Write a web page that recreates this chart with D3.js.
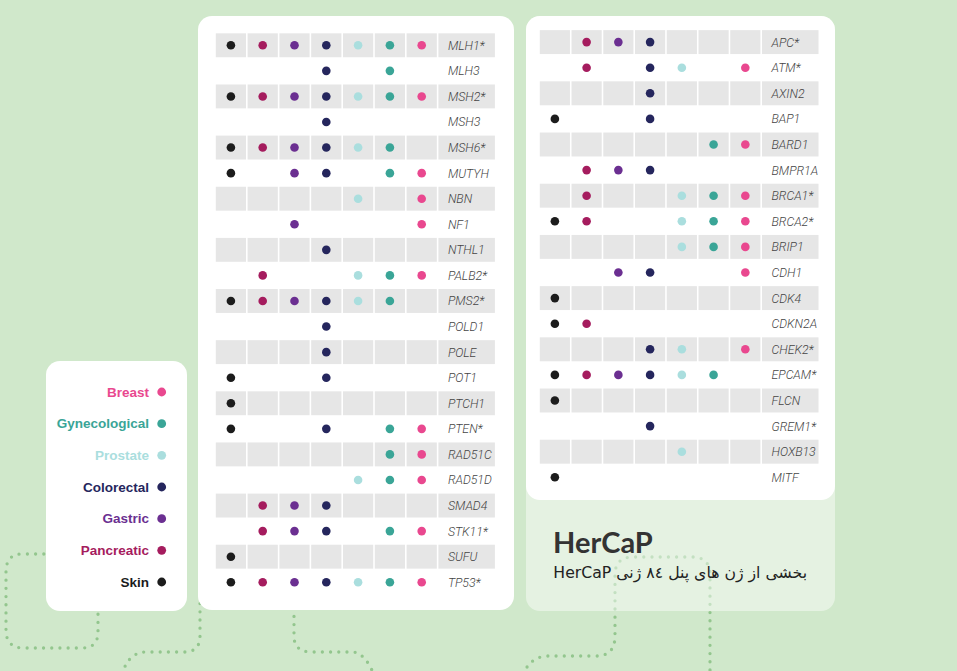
<!DOCTYPE html>
<html>
<head>
<meta charset="utf-8">
<script src="https://cdn.jsdelivr.net/npm/d3@7"></script>
<style>
  html, body { margin: 0; padding: 0; background: #d0e8cb; }
  svg { display: block; }
</style>
</head>
<body>
<script>
// ---------- DATA ----------
const cancers = ["Skin", "Pancreatic", "Gastric", "Colorectal", "Prostate", "Gynecological", "Breast"];
const cancerColors = ["#1c1c1c", "#a51c5e", "#6b2f91", "#25265d", "#aadede", "#3aa597", "#e9488f"];
const legendOrder = ["Breast", "Gynecological", "Prostate", "Colorectal", "Gastric", "Pancreatic", "Skin"];

const leftGenes = ["MLH1*", "MLH3", "MSH2*", "MSH3", "MSH6*", "MUTYH", "NBN", "NF1", "NTHL1", "PALB2*",
  "PMS2*", "POLD1", "POLE", "POT1", "PTCH1", "PTEN*", "RAD51C", "RAD51D", "SMAD4", "STK11*", "SUFU", "TP53*"];
// columns: Skin, Pancreatic, Gastric, Colorectal, Prostate, Gynecological, Breast
const leftMatrix = [
  [1,1,1,1,1,1,1],
  [0,0,0,1,0,1,0],
  [1,1,1,1,1,1,1],
  [0,0,0,1,0,0,0],
  [1,1,1,1,1,1,0],
  [1,0,1,1,0,1,1],
  [0,0,0,0,1,0,1],
  [0,0,1,0,0,0,1],
  [0,0,0,1,0,0,0],
  [0,1,0,0,1,1,1],
  [1,1,1,1,1,1,0],
  [0,0,0,1,0,0,0],
  [0,0,0,1,0,0,0],
  [1,0,0,1,0,0,0],
  [1,0,0,0,0,0,0],
  [1,0,0,1,0,1,1],
  [0,0,0,0,0,1,1],
  [0,0,0,0,1,1,1],
  [0,1,1,1,0,0,0],
  [0,1,1,1,0,1,1],
  [1,0,0,0,0,0,0],
  [1,1,1,1,1,1,1]
];

const rightGenes = ["APC*", "ATM*", "AXIN2", "BAP1", "BARD1", "BMPR1A", "BRCA1*", "BRCA2*", "BRIP1",
  "CDH1", "CDK4", "CDKN2A", "CHEK2*", "EPCAM*", "FLCN", "GREM1*", "HOXB13", "MITF"];
const rightMatrix = [
  [0,1,1,1,0,0,0],
  [0,1,0,1,1,0,1],
  [0,0,0,1,0,0,0],
  [1,0,0,1,0,0,0],
  [0,0,0,0,0,1,1],
  [0,1,1,1,0,0,0],
  [0,1,0,0,1,1,1],
  [1,1,0,0,1,1,1],
  [0,0,0,0,1,1,1],
  [0,0,1,1,0,0,1],
  [1,0,0,0,0,0,0],
  [1,1,0,0,0,0,0],
  [0,0,0,1,1,0,1],
  [1,1,1,1,1,1,0],
  [1,0,0,0,0,0,0],
  [0,0,0,1,0,0,0],
  [0,0,0,0,1,0,0],
  [1,0,0,0,0,0,0]
];

const titleText = "HerCaP";
const subtitleText = "بخشی از ژن های پنل ۸٤ ژنی HerCaP";

// ---------- DRAW ----------
const W = 957, H = 671;
const svg = d3.select("body").append("svg").attr("width", W).attr("height", H);
const color = d3.scaleOrdinal().domain(cancers).range(cancerColors);

svg.append("rect").attr("width", W).attr("height", H).attr("fill", "#d0e8cb");

// decorative dotted paths
const deco = [
  "M52,554 H22 Q6,554 6,572 V630 Q6,648 24,648 H82 Q98,648 98,632 V600",
  "M120,682 Q126,652 146,652 H184 Q200,652 200,636 V600",
  "M294,600 V636 Q294,652 312,652 H352 Q366,652 376,680",
  "M520,682 Q528,656 548,656 H596 Q615,656 615,636 V575 Q615,557 633,557 H692 Q710,557 710,575 V682"
];
svg.append("g").selectAll("path").data(deco).join("path")
  .attr("d", d => d)
  .attr("fill", "none")
  .attr("stroke", "#93c68e")
  .attr("stroke-width", 3.3)
  .attr("stroke-linecap", "round")
  .attr("stroke-dasharray", "0 8.2");

// panels
svg.append("rect").attr("x", 46).attr("y", 361).attr("width", 141).attr("height", 250).attr("rx", 14).attr("fill", "#fff");
svg.append("rect").attr("x", 198).attr("y", 16).attr("width", 316).attr("height", 594).attr("rx", 14).attr("fill", "#fff");
svg.append("rect").attr("x", 526).attr("y", 16).attr("width", 309).attr("height", 595).attr("rx", 14).attr("fill", "#fff").attr("fill-opacity", 0.45);
svg.append("rect").attr("x", 526).attr("y", 16).attr("width", 309).attr("height", 484).attr("rx", 14).attr("fill", "#fff");

function drawTable(genes, matrix, x0, x1, y0, step, labelW) {
  const g = svg.append("g");
  const x = d3.scaleBand().domain(cancers).range([x0, x1]).paddingInner(0.05).paddingOuter(0.025);
  const y = d3.scaleBand().domain(genes).range([y0, y0 + step * genes.length]).paddingInner(0.065).paddingOuter(0.0325);
  const labX = x1 + 0.8;
  const rows = g.selectAll("g.row").data(genes).join("g").attr("class", "row");
  // grey striping
  rows.filter((d, i) => i % 2 === 0).each(function(gene) {
    const r = d3.select(this);
    r.selectAll("rect.cell").data(cancers).join("rect").attr("class", "cell")
      .attr("x", c => x(c)).attr("y", y(gene))
      .attr("width", x.bandwidth()).attr("height", y.bandwidth())
      .attr("fill", "#e6e6e6");
    r.append("rect").attr("x", labX).attr("y", y(gene))
      .attr("width", labelW).attr("height", y.bandwidth()).attr("fill", "#e6e6e6");
  });
  // dots
  rows.each(function(gene, i) {
    const hits = cancers.filter((c, j) => matrix[i][j] === 1);
    d3.select(this).selectAll("circle").data(hits).join("circle")
      .attr("cx", c => x(c) + x.bandwidth() / 2)
      .attr("cy", y(gene) + y.bandwidth() / 2)
      .attr("r", 4.3)
      .attr("fill", c => color(c));
  });
  // labels
  rows.append("text")
    .attr("x", labX + 9.5)
    .attr("y", gene => y(gene) + y.bandwidth() / 2)
    .attr("dy", "0.36em")
    .attr("font-family", "Roboto, 'Liberation Sans', sans-serif")
    .attr("font-weight", 300)
    .attr("font-style", "italic")
    .attr("font-size", 12.3)
    .attr("fill", "#444")
    .text(d => d);
}

drawTable(leftGenes, leftMatrix, 215, 437.6, 32.5, 25.57, 56.5);
drawTable(rightGenes, rightMatrix, 539, 761.2, 29.3, 25.6, 56.5);

// legend
const ly = d3.scalePoint().domain(legendOrder).range([392, 582]);
const leg = svg.append("g").selectAll("g").data(legendOrder).join("g")
  .attr("transform", d => `translate(0,${ly(d)})`);
leg.append("circle").attr("cx", 161.7).attr("cy", 0).attr("r", 4.4).attr("fill", d => color(d));
leg.append("text")
  .attr("x", 149).attr("y", 0).attr("dy", "0.35em")
  .attr("text-anchor", "end")
  .attr("font-family", "'Liberation Sans', Arial, sans-serif")
  .attr("font-weight", 700)
  .attr("font-size", 13.5)
  .attr("fill", d => color(d))
  .text(d => d);

// title
svg.append("text")
  .attr("x", 553).attr("y", 553)
  .attr("font-family", "Lato, 'Open Sans', sans-serif")
  .attr("font-weight", 700)
  .attr("font-size", 29)
  .attr("fill", "#333")
  .text(titleText);

svg.append("text")
  .attr("x", 807).attr("y", 578)
  .attr("direction", "rtl")
  .attr("text-anchor", "start")
  .style("direction", "rtl")
  .style("unicode-bidi", "embed")
  .attr("font-family", "'DejaVu Sans', 'Noto Sans', sans-serif")
  .attr("font-size", 15.7)
  .attr("fill", "#222")
  .text(subtitleText);
</script>
</body>
</html>
